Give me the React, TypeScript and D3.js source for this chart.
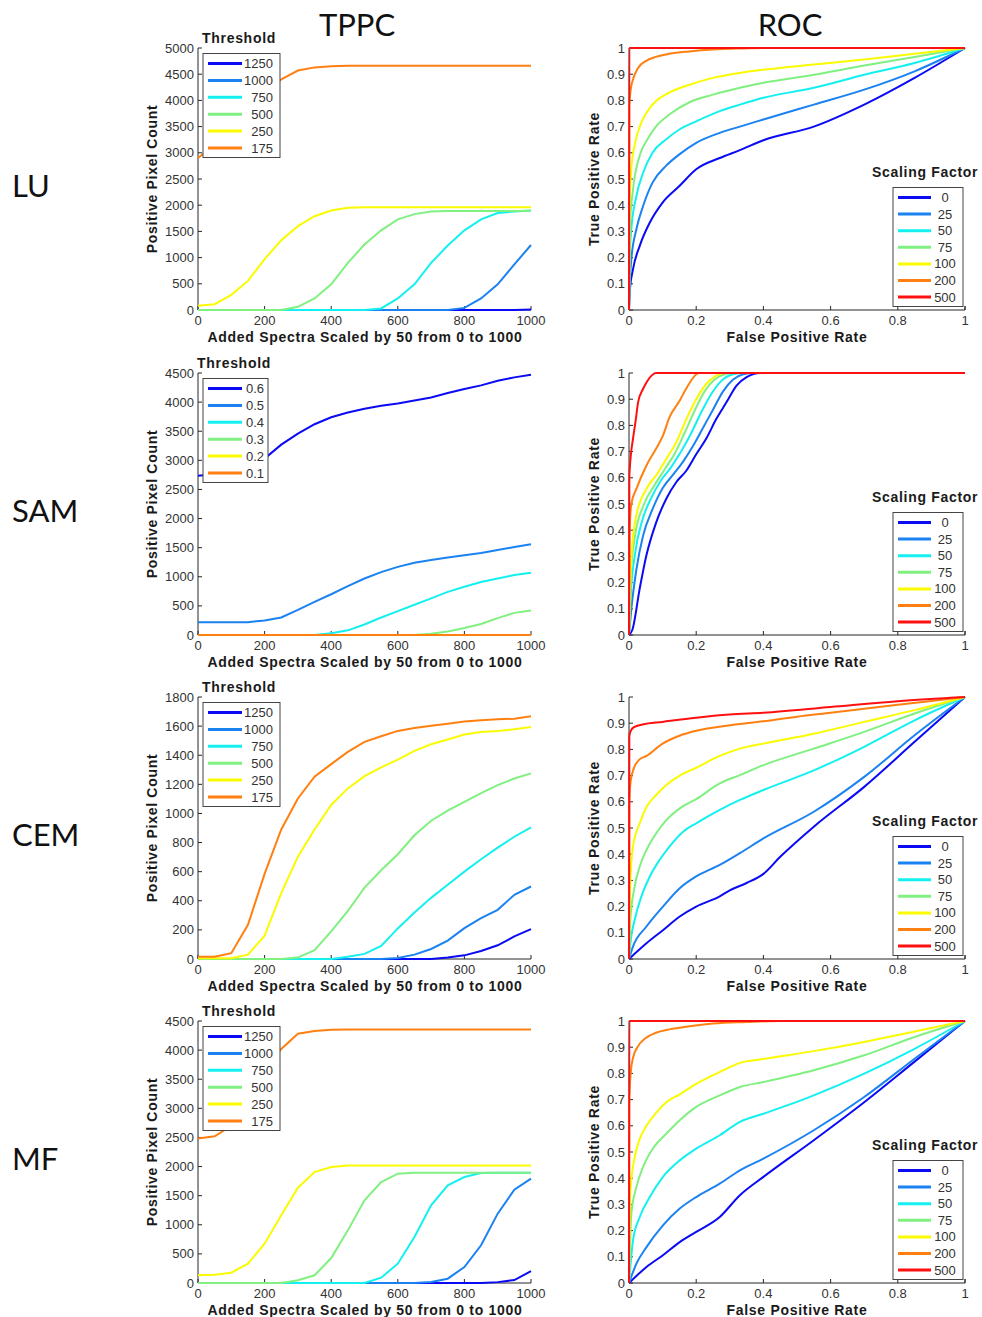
import React, { useEffect, useRef } from 'react';
import * as d3 from 'd3';

// x positions of the TPPC curves
const SPECTRA = [0, 50, 100, 150, 200, 250, 300, 350, 400, 450, 500, 550, 600, 650, 700, 750, 800, 850, 900, 950, 1000];

const INT_THRESHOLDS = ['1250', '1000', '750', '500', '250', '175'];
const SAM_THRESHOLDS = ['0.6', '0.5', '0.4', '0.3', '0.2', '0.1'];
const SCALING = ['0', '25', '50', '75', '100', '200', '500'];
const ROW_NAMES = ['LU', 'SAM', 'CEM', 'MF'];

const COLORS = ['#0a0af5', '#1b82f2', '#14f0f0', '#80f080', '#fafa00', '#ff8010', '#ff1010'];

// LU positive pixel counts
const LU_1250 = [0, 0, 0, 0, 0, 0, 0, 0, 0, 0, 0, 0, 0, 0, 0, 0, 0, 0, 0, 0, 10];
const LU_1000 = [0, 0, 0, 0, 0, 0, 0, 0, 0, 0, 0, 0, 0, 0, 0, 0, 40, 220, 490, 870, 1240];
const LU_750 = [0, 0, 0, 0, 0, 0, 0, 0, 0, 0, 0, 30, 220, 490, 900, 1230, 1520, 1730, 1850, 1880, 1900];
const LU_500 = [0, 0, 0, 0, 0, 0, 60, 220, 490, 900, 1250, 1520, 1730, 1830, 1880, 1890, 1890, 1890, 1890, 1890, 1895];
const LU_250 = [80, 110, 290, 555, 970, 1330, 1600, 1790, 1900, 1950, 1960, 1960, 1960, 1960, 1960, 1960, 1960, 1960, 1960, 1960, 1960];
const LU_175 = [2900, 3150, 3500, 3850, 4150, 4400, 4570, 4630, 4650, 4660, 4660, 4660, 4660, 4660, 4660, 4660, 4660, 4660, 4660, 4660, 4660];

// SAM positive pixel counts
const SAM_06 = [2736, 2760, 2830, 2920, 3030, 3270, 3460, 3620, 3740, 3820, 3885, 3937, 3977, 4029, 4080, 4155, 4224, 4287, 4368, 4425, 4471];
const SAM_05 = [220, 220, 220, 220, 250, 300, 430, 570, 700, 840, 970, 1080, 1170, 1240, 1290, 1330, 1370, 1410, 1460, 1510, 1560];
const SAM_04 = [0, 0, 0, 0, 0, 0, 0, 0, 30, 80, 180, 300, 410, 520, 630, 740, 830, 910, 970, 1030, 1070];
const SAM_03 = [0, 0, 0, 0, 0, 0, 0, 0, 0, 0, 0, 0, 0, 0, 20, 60, 120, 190, 290, 380, 420];
const SAM_02 = [0, 0, 0, 0, 0, 0, 0, 0, 0, 0, 0, 0, 0, 0, 0, 0, 0, 0, 0, 0, 0];
const SAM_01 = [0, 0, 0, 0, 0, 0, 0, 0, 0, 0, 0, 0, 0, 0, 0, 0, 0, 0, 0, 0, 0];

// CEM positive pixel counts
const CEM_1250 = [0, 0, 0, 0, 0, 0, 0, 0, 0, 0, 0, 0, 0, 0, 0, 10, 25, 55, 94, 155, 205];
const CEM_1000 = [0, 0, 0, 0, 0, 0, 0, 0, 0, 0, 0, 0, 7, 30, 69, 126, 212, 281, 338, 441, 498];
const CEM_750 = [0, 0, 0, 0, 0, 0, 0, 0, 0, 15, 35, 90, 210, 320, 420, 510, 600, 685, 765, 840, 905];
const CEM_500 = [0, 0, 0, 0, 0, 0, 10, 60, 190, 330, 490, 610, 720, 850, 950, 1020, 1080, 1140, 1195, 1240, 1275];
const CEM_250 = [5, 5, 5, 30, 160, 452, 703, 890, 1058, 1172, 1256, 1316, 1370, 1430, 1475, 1508, 1542, 1560, 1567, 1578, 1594];
const CEM_175 = [15, 15, 40, 235, 585, 890, 1103, 1252, 1339, 1423, 1492, 1530, 1567, 1587, 1603, 1617, 1631, 1640, 1647, 1651, 1667];

// MF positive pixel counts
const MF_1250 = [0, 0, 0, 0, 0, 0, 0, 0, 0, 0, 0, 0, 0, 0, 0, 0, 0, 0, 15, 50, 206];
const MF_1000 = [0, 0, 0, 0, 0, 0, 0, 0, 0, 0, 0, 0, 0, 0, 17, 74, 275, 647, 1191, 1603, 1792];
const MF_750 = [0, 0, 0, 0, 0, 0, 0, 0, 0, 0, 0, 92, 332, 790, 1334, 1677, 1820, 1889, 1895, 1895, 1895];
const MF_500 = [0, 0, 0, 0, 0, 0, 46, 132, 429, 904, 1420, 1734, 1877, 1895, 1895, 1895, 1895, 1895, 1895, 1895, 1895];
const MF_250 = [132, 143, 177, 332, 675, 1162, 1637, 1906, 1992, 2020, 2020, 2020, 2020, 2020, 2020, 2020, 2020, 2020, 2020, 2020, 2020];
const MF_175 = [2480, 2520, 2700, 3200, 3650, 4020, 4280, 4330, 4350, 4355, 4355, 4355, 4355, 4355, 4355, 4355, 4355, 4355, 4355, 4355, 4355];

// ROC curves, [false positive rate, true positive rate]
const LU_ROC_0 = [[0, 0], [0.002, 0.067], [0.012, 0.156], [0.032, 0.245], [0.062, 0.334], [0.1, 0.41], [0.15, 0.473], [0.2, 0.537], [0.27, 0.58], [0.33, 0.61], [0.4, 0.648], [0.55, 0.70], [0.7, 0.784], [0.85, 0.886], [1, 1]];
const LU_ROC_25 = [[0, 0], [0.003, 0.12], [0.007, 0.194], [0.022, 0.308], [0.042, 0.397], [0.07, 0.486], [0.11, 0.55], [0.15, 0.594], [0.2, 0.638], [0.27, 0.676], [0.33, 0.70], [0.4, 0.727], [0.55, 0.784], [0.7, 0.841], [0.85, 0.911], [1, 1]];
const LU_ROC_50 = [[0, 0], [0.002, 0.2], [0.007, 0.31], [0.022, 0.435], [0.042, 0.524], [0.07, 0.6], [0.11, 0.651], [0.15, 0.689], [0.2, 0.72], [0.27, 0.759], [0.33, 0.784], [0.4, 0.81], [0.55, 0.848], [0.7, 0.898], [0.85, 0.943], [1, 1]];
const LU_ROC_75 = [[0, 0], [0.002, 0.31], [0.012, 0.46], [0.032, 0.59], [0.052, 0.645], [0.08, 0.70], [0.12, 0.746], [0.18, 0.793], [0.25, 0.822], [0.33, 0.848], [0.4, 0.867], [0.55, 0.898], [0.7, 0.933], [0.85, 0.966], [1, 1]];
const LU_ROC_100 = [[0, 0], [0.002, 0.41], [0.007, 0.54], [0.017, 0.63], [0.032, 0.70], [0.052, 0.753], [0.08, 0.797], [0.12, 0.83], [0.18, 0.86], [0.25, 0.886], [0.33, 0.905], [0.4, 0.917], [0.55, 0.937], [0.7, 0.956], [0.85, 0.978], [1, 1]];
const LU_ROC_200 = [[0, 0], [0.001, 0.78], [0.005, 0.84], [0.012, 0.88], [0.027, 0.924], [0.05, 0.95], [0.08, 0.966], [0.12, 0.978], [0.18, 0.987], [0.25, 0.994], [0.33, 0.998], [0.4, 1], [1, 1]];
const LU_ROC_500 = [[0, 0], [0.001, 1], [1, 1]];

const SAM_ROC_0 = [[0, 0], [0.01, 0.02], [0.032, 0.178], [0.052, 0.305], [0.081, 0.43], [0.111, 0.52], [0.141, 0.584], [0.171, 0.628], [0.2, 0.69], [0.23, 0.75], [0.26, 0.825], [0.29, 0.888], [0.32, 0.952], [0.35, 0.984], [0.39, 1], [1, 1]];
const SAM_ROC_25 = [[0, 0], [0.007, 0.1], [0.022, 0.25], [0.042, 0.38], [0.07, 0.48], [0.1, 0.56], [0.13, 0.61], [0.16, 0.66], [0.19, 0.72], [0.22, 0.79], [0.25, 0.86], [0.28, 0.93], [0.31, 0.975], [0.34, 0.995], [0.37, 1], [1, 1]];
const SAM_ROC_50 = [[0, 0], [0.005, 0.15], [0.018, 0.31], [0.04, 0.44], [0.065, 0.52], [0.095, 0.59], [0.125, 0.64], [0.155, 0.7], [0.185, 0.77], [0.215, 0.85], [0.245, 0.92], [0.275, 0.97], [0.31, 0.995], [0.34, 1], [1, 1]];
const SAM_ROC_75 = [[0, 0], [0.005, 0.22], [0.018, 0.38], [0.045, 0.5], [0.075, 0.57], [0.105, 0.63], [0.135, 0.69], [0.165, 0.77], [0.195, 0.855], [0.225, 0.93], [0.255, 0.975], [0.29, 0.997], [0.31, 1], [1, 1]];
const SAM_ROC_100 = [[0, 0], [0.007, 0.3], [0.022, 0.457], [0.052, 0.558], [0.081, 0.61], [0.111, 0.672], [0.141, 0.736], [0.171, 0.825], [0.2, 0.9], [0.23, 0.958], [0.26, 0.99], [0.28, 1], [1, 1]];
const SAM_ROC_200 = [[0, 0], [0.002, 0.4], [0.007, 0.5], [0.022, 0.558], [0.052, 0.647], [0.08, 0.71], [0.101, 0.761], [0.12, 0.83], [0.151, 0.895], [0.17, 0.94], [0.19, 0.98], [0.2, 0.995], [0.21, 1], [1, 1]];
const SAM_ROC_500 = [[0, 0], [0.001, 0.6], [0.005, 0.68], [0.012, 0.75], [0.02, 0.82], [0.027, 0.888], [0.042, 0.94], [0.052, 0.964], [0.067, 0.99], [0.08, 1], [1, 1]];

const CEM_ROC_0 = [[0, 0], [0.052, 0.06], [0.101, 0.11], [0.151, 0.162], [0.2, 0.2], [0.27, 0.239], [0.3, 0.262], [0.35, 0.29], [0.4, 0.325], [0.45, 0.39], [0.55, 0.505], [0.7, 0.657], [0.85, 0.829], [1, 1]];
const CEM_ROC_25 = [[0, 0], [0.012, 0.048], [0.052, 0.124], [0.101, 0.2], [0.151, 0.27], [0.2, 0.315], [0.27, 0.359], [0.33, 0.404], [0.4, 0.46], [0.55, 0.562], [0.7, 0.695], [0.85, 0.854], [1, 1]];
const CEM_ROC_50 = [[0, 0], [0.004, 0.06], [0.017, 0.15], [0.037, 0.239], [0.062, 0.315], [0.091, 0.378], [0.121, 0.43], [0.161, 0.486], [0.2, 0.518], [0.27, 0.569], [0.33, 0.607], [0.4, 0.645], [0.55, 0.72], [0.7, 0.81], [0.85, 0.911], [1, 1]];
const CEM_ROC_75 = [[0, 0], [0.004, 0.15], [0.017, 0.277], [0.032, 0.353], [0.052, 0.416], [0.081, 0.48], [0.111, 0.53], [0.151, 0.575], [0.2, 0.61], [0.27, 0.67], [0.33, 0.702], [0.4, 0.74], [0.55, 0.803], [0.7, 0.867], [0.85, 0.937], [1, 1]];
const CEM_ROC_100 = [[0, 0], [0.004, 0.3], [0.012, 0.43], [0.032, 0.518], [0.052, 0.58], [0.081, 0.626], [0.111, 0.664], [0.151, 0.7], [0.2, 0.73], [0.27, 0.775], [0.33, 0.803], [0.4, 0.822], [0.55, 0.86], [0.7, 0.905], [0.85, 0.95], [1, 1]];
const CEM_ROC_200 = [[0, 0], [0.001, 0.6], [0.005, 0.68], [0.015, 0.73], [0.03, 0.76], [0.052, 0.775], [0.1, 0.822], [0.15, 0.852], [0.2, 0.871], [0.3, 0.892], [0.4, 0.907], [0.5, 0.925], [0.6, 0.94], [0.7, 0.955], [0.8, 0.97], [0.9, 0.985], [1, 1]];
const CEM_ROC_500 = [[0, 0], [0.001, 0.85], [0.005, 0.87], [0.015, 0.885], [0.04, 0.895], [0.1, 0.905], [0.2, 0.921], [0.3, 0.933], [0.4, 0.94], [0.6, 0.962], [0.8, 0.984], [1, 1]];

const MF_ROC_0 = [[0, 0], [0.052, 0.061], [0.101, 0.106], [0.151, 0.156], [0.2, 0.195], [0.27, 0.252], [0.33, 0.335], [0.4, 0.405], [0.55, 0.545], [0.7, 0.69], [0.85, 0.845], [1, 1]];
const MF_ROC_25 = [[0, 0], [0.022, 0.074], [0.052, 0.137], [0.101, 0.22], [0.151, 0.284], [0.2, 0.328], [0.27, 0.379], [0.33, 0.43], [0.4, 0.475], [0.55, 0.583], [0.7, 0.71], [0.85, 0.856], [1, 1]];
const MF_ROC_50 = [[0, 0], [0.012, 0.163], [0.032, 0.252], [0.062, 0.328], [0.101, 0.405], [0.151, 0.468], [0.2, 0.513], [0.27, 0.564], [0.33, 0.615], [0.4, 0.646], [0.55, 0.716], [0.7, 0.799], [0.85, 0.894], [1, 1]];
const MF_ROC_75 = [[0, 0], [0.007, 0.265], [0.022, 0.366], [0.042, 0.443], [0.071, 0.513], [0.111, 0.57], [0.151, 0.621], [0.2, 0.672], [0.27, 0.716], [0.33, 0.748], [0.4, 0.767], [0.55, 0.812], [0.7, 0.869], [0.85, 0.939], [1, 1]];
const MF_ROC_100 = [[0, 0], [0.004, 0.35], [0.017, 0.48], [0.032, 0.55], [0.052, 0.6], [0.081, 0.65], [0.111, 0.69], [0.151, 0.72], [0.2, 0.76], [0.27, 0.805], [0.33, 0.84], [0.4, 0.855], [0.55, 0.885], [0.7, 0.92], [0.85, 0.96], [1, 1]];
const MF_ROC_200 = [[0, 0], [0.001, 0.7], [0.005, 0.8], [0.012, 0.86], [0.025, 0.9], [0.05, 0.935], [0.08, 0.955], [0.12, 0.968], [0.18, 0.98], [0.25, 0.99], [0.35, 0.996], [0.45, 1], [1, 1]];
const MF_ROC_500 = [[0, 0], [0.001, 1], [1, 1]];

const TPPC_PANELS = [
  { yMax: 5000, yStep: 500, labels: INT_THRESHOLDS, series: [LU_1250, LU_1000, LU_750, LU_500, LU_250, LU_175] },
  { yMax: 4500, yStep: 500, labels: SAM_THRESHOLDS, series: [SAM_06, SAM_05, SAM_04, SAM_03, SAM_02, SAM_01] },
  { yMax: 1800, yStep: 200, labels: INT_THRESHOLDS, series: [CEM_1250, CEM_1000, CEM_750, CEM_500, CEM_250, CEM_175] },
  { yMax: 4500, yStep: 500, labels: INT_THRESHOLDS, series: [MF_1250, MF_1000, MF_750, MF_500, MF_250, MF_175] },
];

const ROC_PANELS = [
  [LU_ROC_0, LU_ROC_25, LU_ROC_50, LU_ROC_75, LU_ROC_100, LU_ROC_200, LU_ROC_500],
  [SAM_ROC_0, SAM_ROC_25, SAM_ROC_50, SAM_ROC_75, SAM_ROC_100, SAM_ROC_200, SAM_ROC_500],
  [CEM_ROC_0, CEM_ROC_25, CEM_ROC_50, CEM_ROC_75, CEM_ROC_100, CEM_ROC_200, CEM_ROC_500],
  [MF_ROC_0, MF_ROC_25, MF_ROC_50, MF_ROC_75, MF_ROC_100, MF_ROC_200, MF_ROC_500],
];

const W = 982;
const H = 1317;
const ROW_TOPS = [48, 373, 697, 1021];
const PLOT_H = 262;
const FONT = 'Liberation Sans, Arial, sans-serif';
const AXIS = '#262626';
const TICK_TEXT = '#333';
const LABEL = '#1a1a1a';

function drawAxes(g, x, y, xTicks, yTicks, fx, fy) {
  const [x0, x1] = x.range();
  const [y0, y1] = y.range();
  g.append('line').attr('x1', x0).attr('x2', x0).attr('y1', y0).attr('y2', y1).attr('stroke', AXIS);
  g.append('line').attr('x1', x0).attr('x2', x1).attr('y1', y0).attr('y2', y0).attr('stroke', AXIS);
  xTicks.forEach(t => {
    g.append('line').attr('x1', x(t)).attr('x2', x(t)).attr('y1', y0).attr('y2', y0 - 4).attr('stroke', AXIS);
    g.append('text').attr('x', x(t)).attr('y', y0 + 10).attr('dy', '0.35em').attr('text-anchor', 'middle')
      .attr('font-size', 13).attr('fill', TICK_TEXT).text(fx(t));
  });
  yTicks.forEach(t => {
    g.append('line').attr('x1', x0).attr('x2', x0 + 4).attr('y1', y(t)).attr('y2', y(t)).attr('stroke', AXIS);
    g.append('text').attr('x', x0 - 4).attr('y', y(t)).attr('dy', '0.35em').attr('text-anchor', 'end')
      .attr('font-size', 13).attr('fill', TICK_TEXT).text(fy(t));
  });
}

// bold label helper
function boldText(g, txt) {
  return g.append('text').attr('dy', '0.35em').attr('font-size', 14).attr('font-weight', 'bold')
    .attr('letter-spacing', 0.7).attr('fill', LABEL).text(txt);
}

export default function App() {
  const svgRef = useRef(null);

  useEffect(() => {
    const svg = d3.select(svgRef.current);
    svg.selectAll('*').remove();
    const root = svg.append('g').attr('font-family', FONT);

    root.append('text').attr('x', 357).attr('y', 25).attr('dy', '0.35em').attr('text-anchor', 'middle')
      .attr('font-size', 31).attr('font-family', 'Lato, sans-serif').attr('fill', '#111').text('TPPC');
    root.append('text').attr('x', 790).attr('y', 25).attr('dy', '0.35em').attr('text-anchor', 'middle')
      .attr('font-size', 31).attr('font-family', 'Lato, sans-serif').attr('fill', '#111').text('ROC');

    ROW_TOPS.forEach((top, r) => {
      const bottom = top + PLOT_H;
      root.append('text').attr('x', 12).attr('y', top + 138).attr('dy', '0.35em')
        .attr('font-size', 31).attr('font-family', 'Lato, sans-serif').attr('fill', '#111').text(ROW_NAMES[r]);

      // ---- TPPC panel
      const p = TPPC_PANELS[r];
      const x = d3.scaleLinear().domain([0, 1000]).range([198, 531]);
      const y = d3.scaleLinear().domain([0, p.yMax]).range([bottom, top]);
      const g = root.append('g');
      drawAxes(g, x, y, d3.range(0, 1001, 200), d3.range(0, p.yMax + 1, p.yStep), d => String(d), d => String(d));

      const line = d3.line().x((d, i) => x(SPECTRA[i])).y(d => y(d));
      p.series.forEach((s, i) => {
        g.append('path').attr('d', line(s)).attr('fill', 'none').attr('stroke', COLORS[i]).attr('stroke-width', 2);
      });

      boldText(g, 'Added Spectra Scaled by 50 from 0 to 1000')
        .attr('x', 365).attr('y', bottom + 27).attr('text-anchor', 'middle');
      boldText(g, 'Positive Pixel Count')
        .attr('transform', `translate(152,${top + PLOT_H / 2}) rotate(-90)`).attr('text-anchor', 'middle');

      const isSam = r === 1;
      const boxW = isSam ? 65 : 77;
      const boxTop = top + 5.5;
      boldText(g, 'Threshold').attr('x', isSam ? 197 : 202).attr('y', top - 9.5);
      g.append('rect').attr('x', 203).attr('y', boxTop).attr('width', boxW).attr('height', 104)
        .attr('fill', '#fff').attr('stroke', '#444');
      p.labels.forEach((lab, i) => {
        const ly = boxTop + 10 + i * 16.9;
        g.append('line').attr('x1', 208).attr('x2', 242).attr('y1', ly).attr('y2', ly)
          .attr('stroke', COLORS[i]).attr('stroke-width', 3);
        g.append('text').attr('x', isSam ? 246 : 273).attr('y', ly).attr('dy', '0.35em')
          .attr('text-anchor', isSam ? 'start' : 'end').attr('font-size', 13).attr('fill', TICK_TEXT).text(lab);
      });

      // ---- ROC panel
      const rx = d3.scaleLinear().domain([0, 1]).range([629, 965]);
      const ry = d3.scaleLinear().domain([0, 1]).range([bottom, top]);
      const rg = root.append('g');
      const fmt = d => String(+d.toFixed(1));
      drawAxes(rg, rx, ry, d3.range(0, 6).map(i => i * 0.2), d3.range(0, 11).map(i => i / 10), fmt, fmt);
      rg.append('line').attr('x1', 965).attr('x2', 965).attr('y1', bottom).attr('y2', bottom - 4).attr('stroke', AXIS);

      const rline = d3.line().x(d => rx(d[0])).y(d => ry(d[1])).curve(d3.curveMonotoneX);
      ROC_PANELS[r].forEach((s, i) => {
        rg.append('path').attr('d', rline(s)).attr('fill', 'none').attr('stroke', COLORS[i]).attr('stroke-width', 2);
      });

      boldText(rg, 'False Positive Rate').attr('x', 797).attr('y', bottom + 27).attr('text-anchor', 'middle');
      boldText(rg, 'True Positive Rate')
        .attr('transform', `translate(594,${top + PLOT_H / 2}) rotate(-90)`).attr('text-anchor', 'middle');

      const rBoxTop = top + 139.5;
      boldText(rg, 'Scaling Factor').attr('x', 872).attr('y', top + 124.5);
      rg.append('rect').attr('x', 893).attr('y', rBoxTop).attr('width', 70).attr('height', 119)
        .attr('fill', '#fff').attr('stroke', '#444');
      SCALING.forEach((lab, i) => {
        const ly = rBoxTop + 10 + i * 16.6;
        rg.append('line').attr('x1', 898).attr('x2', 931).attr('y1', ly).attr('y2', ly)
          .attr('stroke', COLORS[i]).attr('stroke-width', 3);
        rg.append('text').attr('x', 945).attr('y', ly).attr('dy', '0.35em').attr('text-anchor', 'middle')
          .attr('font-size', 13).attr('fill', TICK_TEXT).text(lab);
      });
    });
  }, []);

  return (
    <svg ref={svgRef} width={W} height={H} style={{ position: 'absolute', left: 0, top: 0, background: '#fff' }} />
  );
}
